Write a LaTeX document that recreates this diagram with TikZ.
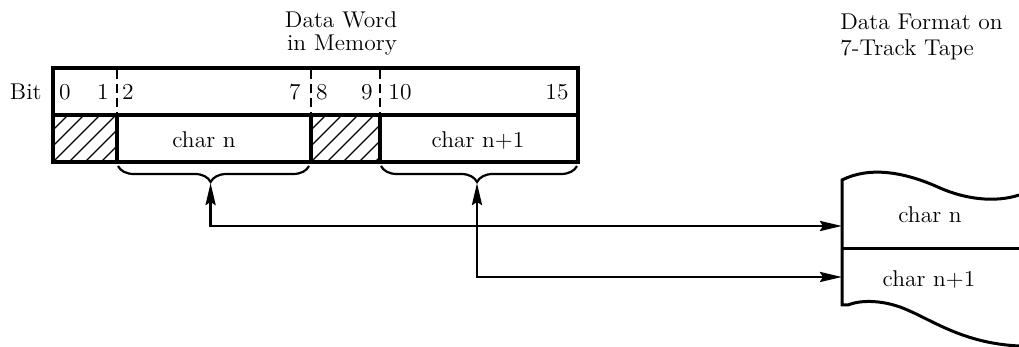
\documentclass[tikz,border=0pt]{standalone}
\usepackage{graphicx}
\usetikzlibrary{arrows.meta,decorations.pathreplacing}
\newcommand{\wt}[1]{\scalebox{1.03}[1]{#1}}
\begin{document}
\begin{tikzpicture}[x=0.5pt,y=-0.5pt,
  lbl/.style={inner sep=0pt, font=\fontsize{11.4}{12}\selectfont},
  frame/.style={line width=1.6pt},
  divider/.style={line width=1.2pt, dash pattern=on 4.5pt off 2.5pt},
  hatch/.style={line width=0.7pt},
  bracestyle/.style={line width=1.1pt, decorate, decoration={brace, mirror, amplitude=8pt, aspect=#1}},
  link/.style={line width=1.4pt, {Stealth[length=11pt,width=5pt,inset=1.5pt]}-{Stealth[length=11pt,width=5pt,inset=1.5pt]}},
  tape/.style={line width=1.5pt}
]
\useasboundingbox (0,0) rectangle (1019,347);

% titles
\node[lbl, anchor=base] (dw1) at (341,27.3) {\wt{Data Word}};
\node[lbl, anchor=base] (dw2) at (342,50.7) {\wt{in Memory}};
\node[lbl, anchor=base west] (tt1) at (840,29.3) {\wt{Data Format on}};
\node[lbl, anchor=base west] (tt2) at (840,56) {\wt{7-Track Tape}};

% hatching
\begin{scope}
  \clip (53,115) rectangle (117,162);
  \foreach \k in {0,...,8} \draw[hatch] (5+\k*16,162) -- ++(50,-50);
\end{scope}
\begin{scope}
  \clip (311,115) rectangle (380,162);
  \foreach \k in {0,...,8} \draw[hatch] (263+\k*16,162) -- ++(50,-50);
\end{scope}

% word frame
\draw[frame] (53,68) rectangle (578,162);
\draw[frame] (53,115) -- (578,115);
\draw[frame] (117,115) -- (117,162);
\draw[frame] (311,115) -- (311,162);
\draw[frame] (380,115) -- (380,162);
\draw[divider] (117,70) -- (117,115);
\draw[divider] (311,70) -- (311,115);
\draw[divider] (380,70) -- (380,115);

% bit labels
\node[lbl, anchor=base east] (bit) at (42,100) {\wt{Bit}};
\node[lbl, anchor=base] (b0) at (65,100) {\wt{0}};
\node[lbl, anchor=base] (b1) at (103,100) {\wt{1}};
\node[lbl, anchor=base] (b2) at (128,100) {\wt{2}};
\node[lbl, anchor=base] (b7) at (295,100) {\wt{7}};
\node[lbl, anchor=base] (b8) at (322,100) {\wt{8}};
\node[lbl, anchor=base] (b9) at (367,100) {\wt{9}};
\node[lbl, anchor=base] (b10) at (400,100) {\wt{10}};
\node[lbl, anchor=base] (b15) at (557,100) {\wt{15}};

% cell texts
\node[lbl, anchor=base] (cn) at (204,148) {\wt{char n}};
\node[lbl, anchor=base] (cn1) at (478,148) {\wt{char n+1}};

% braces
\draw[bracestyle=0.485] (118,166) -- (309,166);
\draw[bracestyle=0.49] (381,166) -- (577,166);
\coordinate (tipA) at (210.6,183);
\coordinate (tipB) at (477,183);

% tape
\draw[tape] (1019,195) .. controls (995,203) and (965,199) .. (940,188)
  .. controls (905,172) and (870,166) .. (842,180) -- (842,305) -- (848,305)
  .. controls (860,300) and (880,300) .. (900,307)
  .. controls (930,318) and (960,343) .. (1019,346);
\draw[tape] (842,249) -- (1019,249);
\node[lbl, anchor=base] (tn) at (930,223) {\wt{char n}};
\node[lbl, anchor=base] (tn1) at (929,287) {\wt{char n+1}};
\coordinate (inA) at (842,226);
\coordinate (inB) at (842,277);

% connectors
\draw[link] (tipA) |- (inA);
\draw[link] (tipB) |- (inB);
\end{tikzpicture}
\end{document}
